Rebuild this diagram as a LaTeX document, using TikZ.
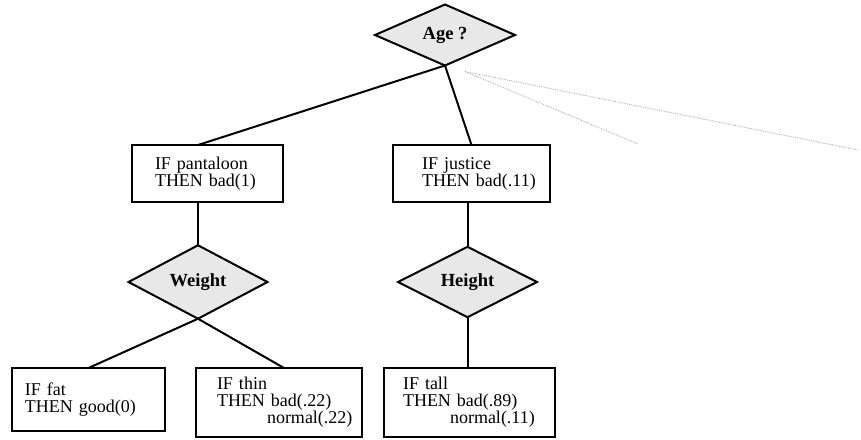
\documentclass[tikz,border=0pt]{standalone}
\usepackage{fontspec}
\setmainfont{Liberation Serif}
\usetikzlibrary{shapes.geometric,calc}
\begin{document}
\begin{tikzpicture}[x=1pt,y=-1pt,
  test/.style={diamond, draw, line width=2pt, fill=gray!18,
    inner sep=0pt, outer sep=0pt, minimum width=139pt, minimum height=54pt,
    font=\fontsize{18.5}{17}\selectfont\bfseries},
  rulebox/.style={rectangle, draw, line width=2pt, inner xsep=0pt,
    inner ysep=0pt, outer sep=0pt, align=left,
    font=\fontsize{18}{17}\selectfont},
  branch/.style={line width=2pt},
  faint/.style={gray!70, densely dotted, line width=0.8pt}]
  \useasboundingbox (0,0) rectangle (861,439);

  % decision nodes
  \node[test, minimum width=140pt] (age) at (445,35) {Age ?};
  \node[test, minimum height=55pt] (weight) at (198,282) {Weight};
  \node[test] (height) at (467.5,282) {Height};

  % rule boxes (line offsets give the left margin)
  \node[rulebox, text width=151pt, minimum height=57pt] (pant) at (207.5,173.5)
    {\hspace*{23pt}IF pantaloon\\\hspace*{23pt}THEN bad(1)};
  \node[rulebox, text width=157pt, minimum height=57pt] (just) at (471.5,173.5)
    {\hspace*{29pt}IF justice\\\hspace*{29pt}THEN bad(.11)};
  \node[rulebox, text width=153pt, minimum height=63pt] (fat) at (88.5,399.5)
    {\hspace*{13pt}IF fat\\\hspace*{13pt}THEN good(0)};
  \node[rulebox, text width=166pt, minimum height=69pt] (thin) at (279,402.5)
    {\hspace*{21pt}IF thin\\\hspace*{21pt}THEN bad(.22)\\\hspace*{71pt}normal(.22)};
  \node[rulebox, text width=171pt, minimum height=69pt] (tall) at (469.5,402.5)
    {\hspace*{19pt}IF tall\\\hspace*{19pt}THEN bad(.89)\\\hspace*{66pt}normal(.11)};

  % tree branches
  \draw[branch] (age.south) -- (pant.north -| weight.north);
  \draw[branch] (age.south) -- (just.north);
  \draw[branch] (weight.north |- pant.south) -- (weight.north);
  \draw[branch] (height.north |- just.south) -- (height.north);
  \draw[branch] (weight.south) -- (fat.north);
  \draw[branch] (weight.south) -- ($(thin.north)+(5,0)$);
  \draw[branch] (height.south) -- (tall.north -| height.south);

  % faded branches to further subtrees
  \coordinate (fanroot) at ($(age.south)+(20,6)$);
  \coordinate (fanA) at (858,150);
  \coordinate (fanB) at (638,144);
  \draw[faint] (fanroot) -- (fanA);
  \draw[faint] (fanroot) -- (fanB);
\end{tikzpicture}
\end{document}
